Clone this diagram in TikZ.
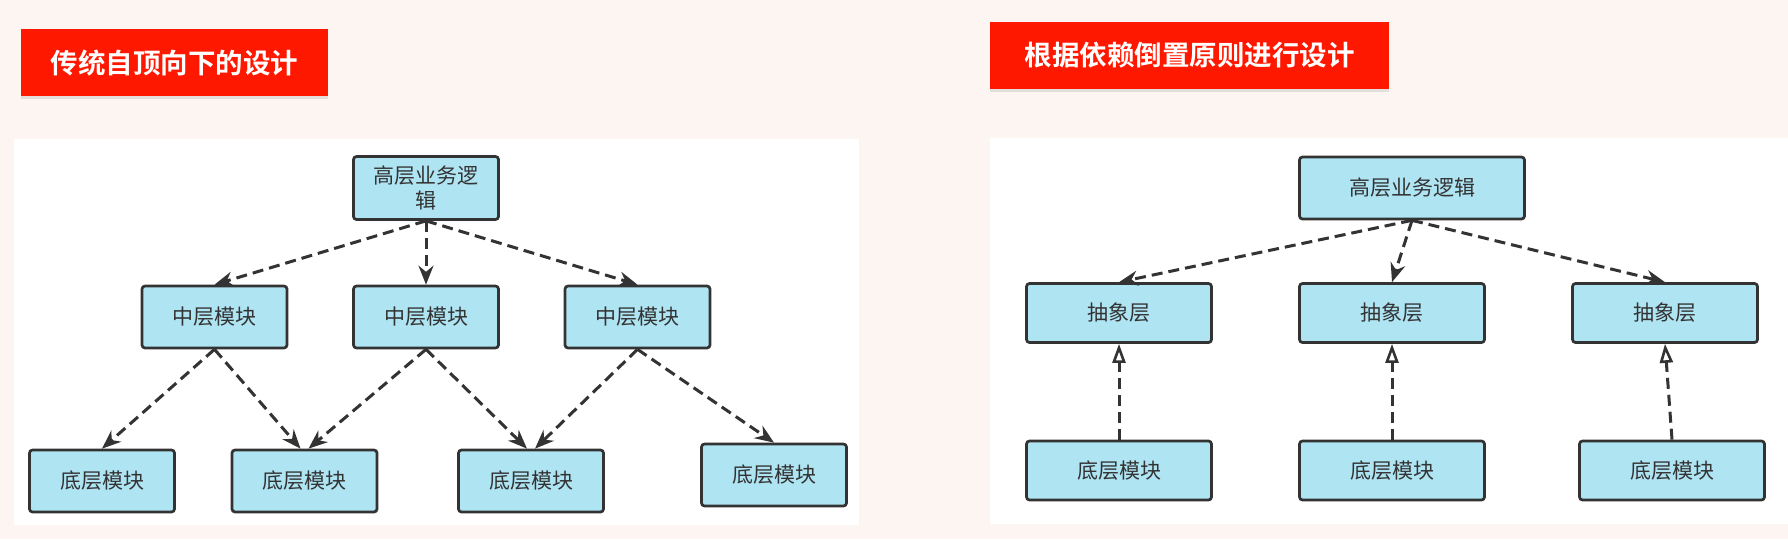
\documentclass[tikz,border=0pt]{standalone}
\usepackage{fontspec}
\newfontfamily\cjk{Noto Sans CJK SC}[BoldFont={Noto Sans CJK SC Bold}]
\usepackage{tikz}
\usetikzlibrary{arrows.meta,shadows}
\definecolor{bgpink}{HTML}{FCF5F2}
\definecolor{titlered}{HTML}{FF1800}
\definecolor{boxblue}{HTML}{AFE4F3}
\definecolor{linegray}{HTML}{333333}

\begin{document}
\begin{tikzpicture}[x=1pt,y=-1pt]
\tikzstyle{title}=[rectangle, fill=titlered, text=white, inner sep=0pt, font=\cjk\bfseries\fontsize{27.5}{30}\selectfont, drop shadow={opacity=0.2, shadow xshift=0pt, shadow yshift=-3pt}]
\tikzstyle{module}=[rectangle, rounded corners=3pt, line width=2.7pt, draw=linegray, fill=boxblue, text=linegray, inner sep=0pt, align=center, font=\cjk\fontsize{21}{25}\selectfont]
\tikzstyle{panel}=[fill=white, draw=none]
\tikzstyle{depend}=[-{Stealth[length=19pt,width=15pt]}, line width=3pt, draw=linegray, dash pattern=on 11pt off 6pt]
\tikzstyle{realize}=[-{Triangle[open,length=19pt,width=13pt,line width=2.6pt]}, line width=3pt, draw=linegray, dash pattern=on 11pt off 6pt]
\useasboundingbox[fill=bgpink] (0,0) rectangle (1788,539);
	\fill[panel] (14,139) rectangle (859,525);
	\fill[panel] (990,137.5) rectangle (1788,524);
	\node[title, minimum width=307pt, minimum height=67pt] (title_l) at (174.5,62.5) {传统自顶向下的设计};
	\node[title, minimum width=399pt, minimum height=67pt] (title_r) at (1189.5,55.5) {根据依赖倒置原则进行设计};

	% left: top-down design
	\node[module, minimum width=145pt, minimum height=63pt] (top_l) at (426,188) {高层业务逻\\辑};
	\node[module, minimum width=145pt, minimum height=62pt] (mid_1) at (214.5,317) {中层模块};
	\node[module, minimum width=145pt, minimum height=62pt] (mid_2) at (426,317) {中层模块};
	\node[module, minimum width=145pt, minimum height=62pt] (mid_3) at (637.5,317) {中层模块};
	\node[module, minimum width=145pt, minimum height=62pt] (low_1) at (102,481) {底层模块};
	\node[module, minimum width=145pt, minimum height=62pt] (low_2) at (304.5,481) {底层模块};
	\node[module, minimum width=145pt, minimum height=62pt] (low_3) at (531,481) {底层模块};
	\node[module, minimum width=145pt, minimum height=62pt] (low_4) at (774,475) {底层模块};

	% right: dependency inversion
	\node[module, minimum width=225pt, minimum height=62pt] (top_r) at (1412,188) {高层业务逻辑};
	\node[module, minimum width=185pt, minimum height=59pt] (abs_1) at (1119,313) {抽象层};
	\node[module, minimum width=185pt, minimum height=59pt] (abs_2) at (1392,313) {抽象层};
	\node[module, minimum width=185pt, minimum height=59pt] (abs_3) at (1665,313) {抽象层};
	\node[module, minimum width=185pt, minimum height=59pt] (imp_1) at (1119,470.5) {底层模块};
	\node[module, minimum width=185pt, minimum height=59pt] (imp_2) at (1392,470.5) {底层模块};
	\node[module, minimum width=185pt, minimum height=59pt] (imp_3) at (1672,470.5) {底层模块};

	\path
		(top_l.south) edge [depend] (mid_1.north)
		(top_l.south) edge [depend] (mid_2.north)
		(top_l.south) edge [depend] (mid_3.north)
		(mid_1.south) edge [depend] (low_1.north)
		(mid_1.south) edge [depend] ([xshift=-4pt]low_2.north)
		(mid_2.south) edge [depend] ([xshift=4pt]low_2.north)
		(mid_2.south) edge [depend] ([xshift=-4pt]low_3.north)
		(mid_3.south) edge [depend] ([xshift=4pt]low_3.north)
		(mid_3.south) edge [depend] (low_4.north);

	\path
		(top_r.south) edge [depend] (abs_1.north)
		(top_r.south) edge [depend] (abs_2.north)
		(top_r.south) edge [depend] (abs_3.north)
		(imp_1.north) edge [realize] (abs_1.south)
		(imp_2.north) edge [realize] (abs_2.south)
		(imp_3.north) edge [realize] (abs_3.south);
\end{tikzpicture}
\end{document}
